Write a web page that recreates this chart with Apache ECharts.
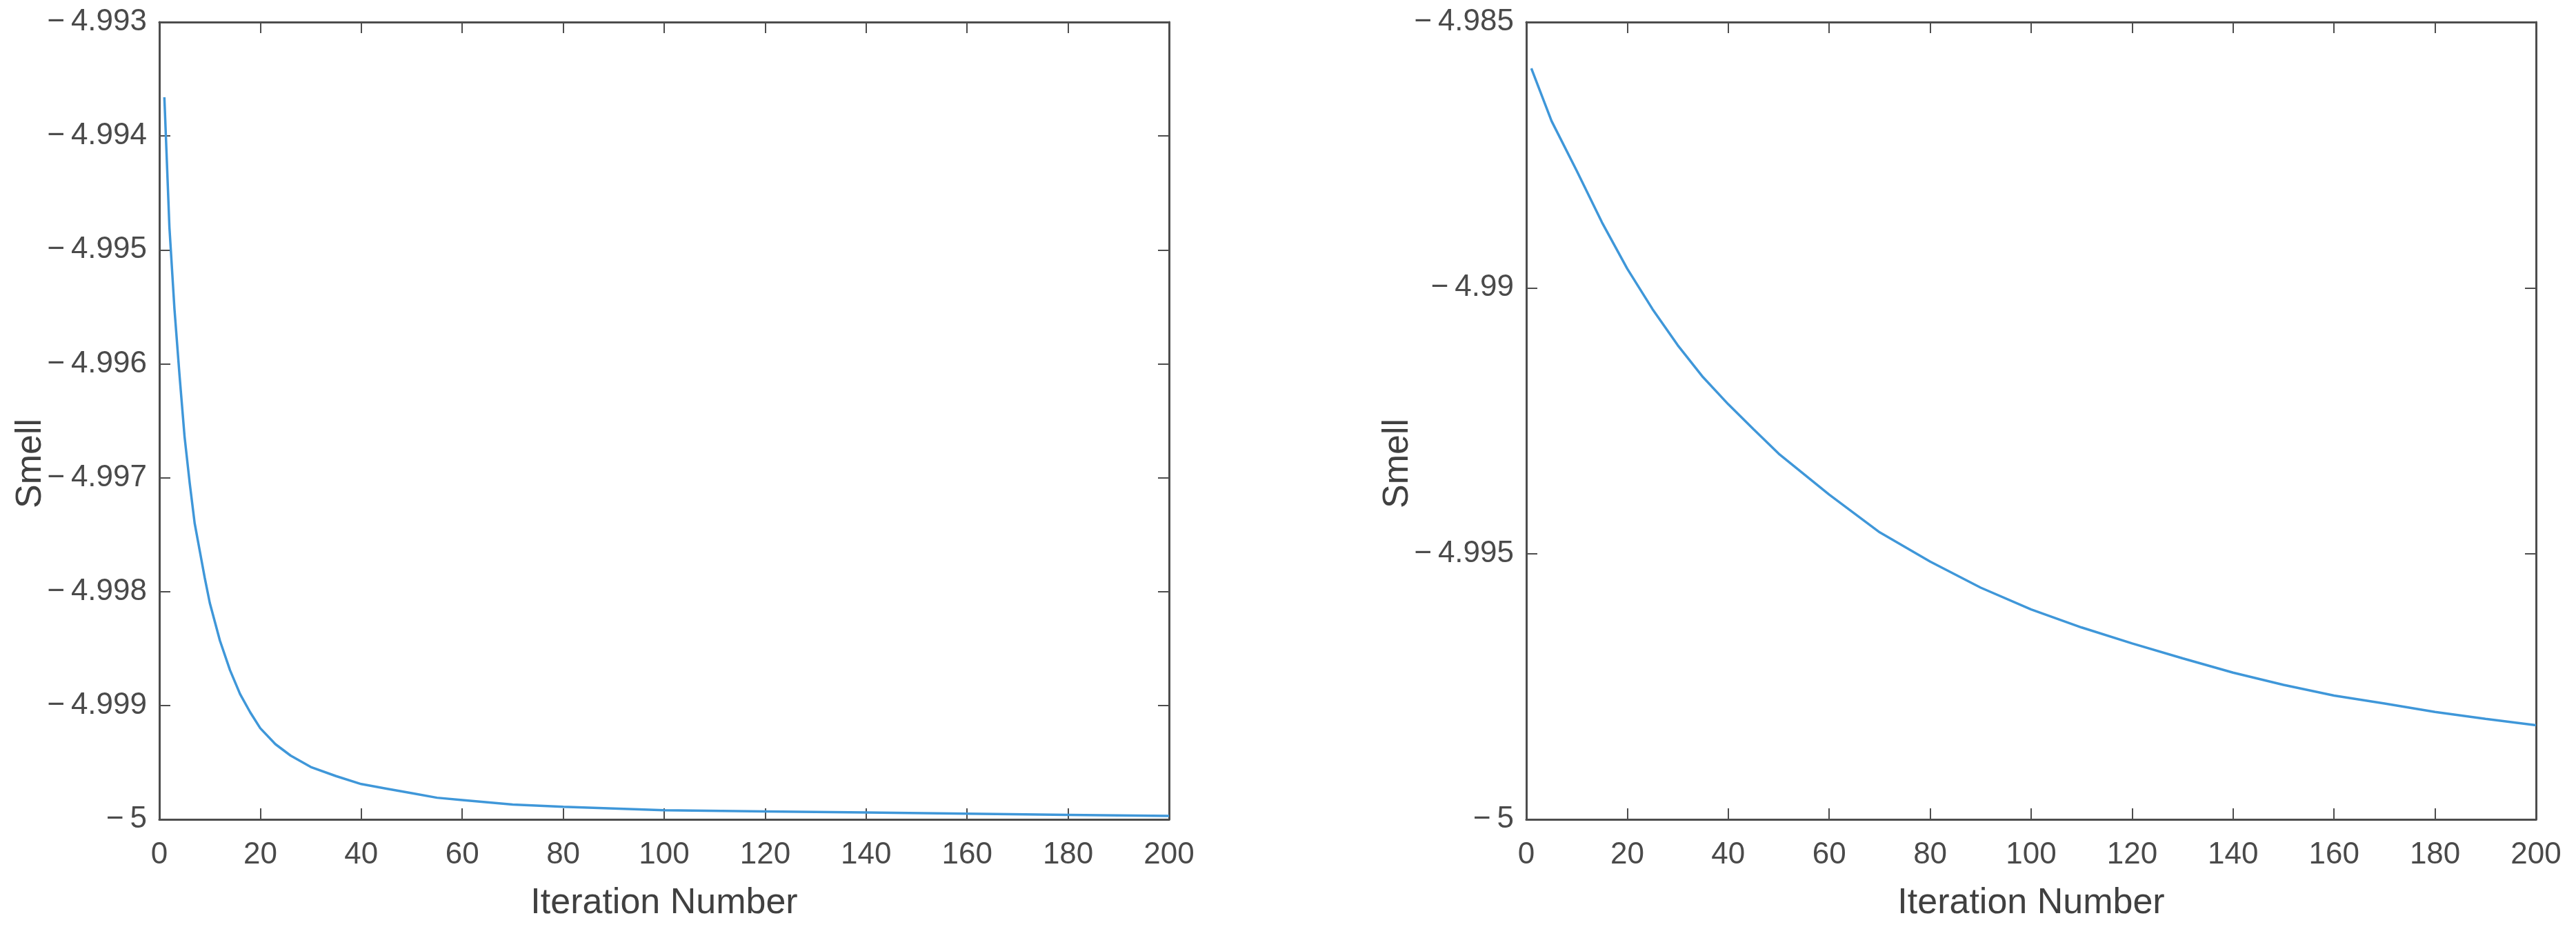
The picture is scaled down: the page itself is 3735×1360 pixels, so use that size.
<!DOCTYPE html>
<html>
<head>
<meta charset="utf-8">
<script src="https://cdn.jsdelivr.net/npm/echarts@6/dist/echarts.min.js"></script>
<style>
html,body{margin:0;padding:0;background:#fff;}
#c{width:3735px;height:1360px;}
</style>
</head>
<body>
<div id="c"></div>
<script>
// ---- data ----
const xTicks = [0, 20, 40, 60, 80, 100, 120, 140, 160, 180, 200];
const leftYTicks = [-5, -4.999, -4.998, -4.997, -4.996, -4.995, -4.994, -4.993];
const rightYTicks = [-5, -4.995, -4.99, -4.985];

const leftIter = [1,2,3,4,5,6,7,8,9,10,12,14,16,18,20,23,26,30,35,40,45,50,55,60,70,80,100,120,140,160,180,200];
const leftSmell = [-4.99366,-4.99480,-4.99552,-4.99610,-4.99664,-4.99704,-4.99740,-4.99764,-4.99788,-4.99810,
  -4.99843,-4.99869,-4.99890,-4.99906,-4.99920,-4.99934,-4.99944,-4.99954,-4.99962,-4.99969,
  -4.99973,-4.99977,-4.99981,-4.99983,-4.99987,-4.99989,-4.99992,-4.99993,-4.99994,-4.99995,-4.99996,-4.99997];

const rightIter = [1,5,10,15,20,25,30,35,40,45,50,60,70,80,90,100,110,120,130,140,150,160,170,180,190,200];
const rightSmell = [-4.98587,-4.98686,-4.98780,-4.98877,-4.98964,-4.99040,-4.99108,-4.99168,-4.99219,-4.99266,
  -4.99312,-4.99389,-4.99460,-4.99515,-4.99564,-4.99605,-4.99639,-4.99669,-4.99697,-4.99724,
  -4.99747,-4.99767,-4.99782,-4.99798,-4.99811,-4.99823];

const xTitle = 'Iteration Number';
const yTitle = 'Smell';

// ---- styling ----
const FONT = "'Liberation Sans', Arial, Helvetica, sans-serif";
const AXIS_COLOR = '#4d4d4d';
const LABEL_COLOR = '#4a4a4a';
const TITLE_COLOR = '#404040';
const LINE_COLOR = '#3f97d9';

function fmt(v) {
  const r = Math.round(v * 1000000) / 1000000;
  let s = String(r);
  if (s.charAt(0) === '-') s = '\u2212\u2009' + s.slice(1);
  return s;
}

const chart = echarts.init(document.getElementById('c'), null, {renderer: 'canvas'});

const grids = [
  {left: 231, right: 3735 - 1695, top: 32, bottom: 1360 - 1188},
  {left: 2213, right: 3735 - 3677, top: 32, bottom: 1360 - 1188}
];

function xAxes(gi) {
  return [
    {
      type: 'value', gridIndex: gi, position: 'bottom',
      min: xTicks[0], max: xTicks[xTicks.length - 1], interval: xTicks[1] - xTicks[0],
      name: xTitle, nameLocation: 'middle', nameGap: 96,
      nameTextStyle: {fontFamily: FONT, fontSize: 52, color: TITLE_COLOR},
      axisLine: {show: true, onZero: false, lineStyle: {color: AXIS_COLOR, width: 3}},
      axisTick: {show: true, inside: true, length: 16, lineStyle: {color: AXIS_COLOR, width: 2}},
      axisLabel: {show: true, margin: 30, fontFamily: FONT, fontSize: 44, color: LABEL_COLOR,
        formatter: v => fmt(v)},
      splitLine: {show: false}
    },
    {
      type: 'value', gridIndex: gi, position: 'top',
      min: xTicks[0], max: xTicks[xTicks.length - 1], interval: xTicks[1] - xTicks[0],
      axisLine: {show: true, onZero: false, lineStyle: {color: AXIS_COLOR, width: 3}},
      axisTick: {show: true, inside: true, length: 16, lineStyle: {color: AXIS_COLOR, width: 2}},
      axisLabel: {show: false},
      splitLine: {show: false}
    }
  ];
}

function yAxes(gi, ticks) {
  const min = ticks[0], max = ticks[ticks.length - 1];
  const interval = Math.round((ticks[1] - ticks[0]) * 1e6) / 1e6;
  return [
    {
      type: 'value', gridIndex: gi, position: 'left',
      min: min, max: max, interval: interval,
      axisLine: {show: true, onZero: false, lineStyle: {color: AXIS_COLOR, width: 3}},
      axisTick: {show: true, inside: true, length: 16, lineStyle: {color: AXIS_COLOR, width: 2}},
      axisLabel: {show: true, margin: 18, fontFamily: FONT, fontSize: 44, color: LABEL_COLOR,
        formatter: v => fmt(v)},
      splitLine: {show: false}
    },
    {
      type: 'value', gridIndex: gi, position: 'right',
      min: min, max: max, interval: interval,
      axisLine: {show: true, onZero: false, lineStyle: {color: AXIS_COLOR, width: 3}},
      axisTick: {show: true, inside: true, length: 16, lineStyle: {color: AXIS_COLOR, width: 2}},
      axisLabel: {show: false},
      splitLine: {show: false}
    }
  ];
}

function yTitleText(cx, cy) {
  return {
    type: 'text', x: cx, y: cy, rotation: Math.PI / 2, silent: true,
    style: {
      text: yTitle, font: '52px ' + FONT, fill: TITLE_COLOR,
      align: 'center', verticalAlign: 'middle',
      textAlign: 'center', textVerticalAlign: 'middle'
    }
  };
}

const option = {
  animation: false,
  backgroundColor: '#ffffff',
  grid: grids,
  xAxis: [...xAxes(0), ...xAxes(1)],
  yAxis: [...yAxes(0, leftYTicks), ...yAxes(1, rightYTicks)],
  graphic: [yTitleText(45, 672), yTitleText(2027, 672)],
  series: [
    {
      type: 'line', xAxisIndex: 0, yAxisIndex: 0,
      data: leftIter.map((x, i) => [x, leftSmell[i]]),
      showSymbol: false, symbol: 'none',
      lineStyle: {color: LINE_COLOR, width: 3.5},
      clip: true
    },
    {
      type: 'line', xAxisIndex: 2, yAxisIndex: 2,
      data: rightIter.map((x, i) => [x, rightSmell[i]]),
      showSymbol: false, symbol: 'none',
      lineStyle: {color: LINE_COLOR, width: 3.5},
      clip: true
    }
  ]
};
chart.setOption(option);
</script>
</body>
</html>
